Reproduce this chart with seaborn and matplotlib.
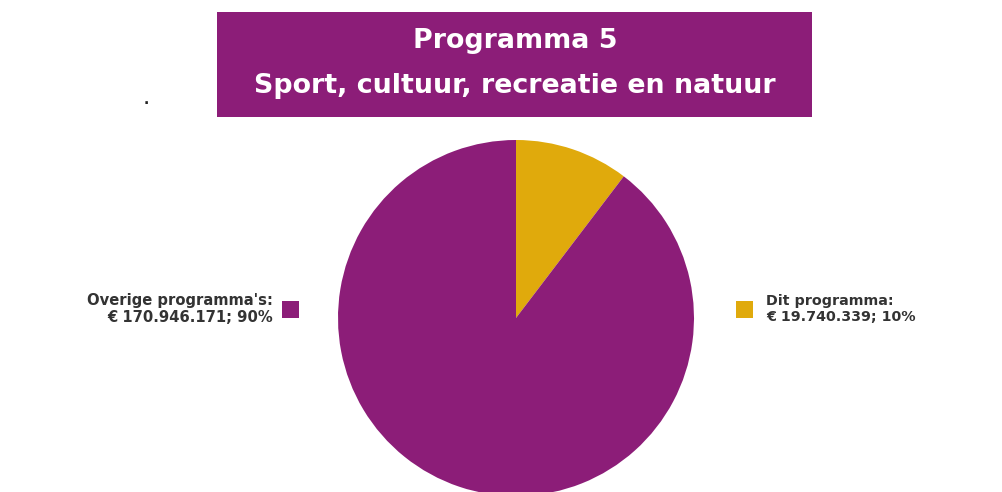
import matplotlib
matplotlib.use('Agg')
import matplotlib.pyplot as plt
import seaborn as sns
from matplotlib.patches import Rectangle

# Data
labels = ["Dit programma", "Overige programma's"]
amounts = [19740339, 170946171]
percentages = [10, 90]
colors = ['#e0aa0c', '#8c1d78']
title_lines = ["Programma 5", "Sport, cultuur, recreatie en natuur"]

sns.set_theme(style='white')
plt.rcParams['font.family'] = ['DejaVu Sans']

fig = plt.figure(figsize=(10.03, 4.92), dpi=100)
fig.patch.set_facecolor('white')

W, H = 1003, 492

# Pie axes (pixel placement)
ax = fig.add_axes([338 / W, (H - 496) / H, 356 / W, 356 / H])
ax.pie(amounts, colors=colors, startangle=90, counterclock=False,
       radius=1, wedgeprops=dict(linewidth=0))
ax.set_xlim(-1, 1)
ax.set_ylim(-1, 1)
ax.set_aspect('equal')
ax.axis('off')

# Title banner
fig.patches.append(Rectangle((217 / W, 1 - 117 / H), (812 - 217) / W, (117 - 12) / H,
                             transform=fig.transFigure, facecolor=colors[1],
                             edgecolor='none', zorder=0))
fig.text(515 / W, 1 - 41 / H, title_lines[0], ha='center', va='center',
         color='white', fontsize=19.4, fontweight='bold')
fig.text(515 / W, 1 - 86 / H, title_lines[1], ha='center', va='center',
         color='white', fontsize=19.4, fontweight='bold')

# small stray dot
fig.text(146 / W, 1 - 100 / H, '.', ha='center', va='center', fontsize=10,
         fontweight='bold', color='#222222')


def fmt(v):
    return f"{v:,}".replace(',', '.')


# Left legend label (Overige)
fig.patches.append(Rectangle((282 / W, 1 - 318 / H), 17 / W, 17 / H,
                             transform=fig.transFigure, facecolor=colors[1],
                             edgecolor='none'))
fig.text(273 / W, 1 - 309 / H, f"{labels[1]}:\n€ {fmt(amounts[1])}; {percentages[1]}%",
         ha='right', va='center', multialignment='right', fontsize=10.6,
         fontweight='bold', color='#333333', linespacing=1.15)

# Right legend label (Dit programma)
fig.patches.append(Rectangle((736 / W, 1 - 318 / H), 17 / W, 17 / H,
                             transform=fig.transFigure, facecolor=colors[0],
                             edgecolor='none'))
fig.text(766 / W, 1 - 309 / H, f"{labels[0]}:\n€ {fmt(amounts[0])}; {percentages[0]}%",
         ha='left', va='center', multialignment='left', fontsize=10.3,
         fontweight='bold', color='#333333', linespacing=1.15)

fig.savefig('out.png', dpi=100, facecolor='white')
